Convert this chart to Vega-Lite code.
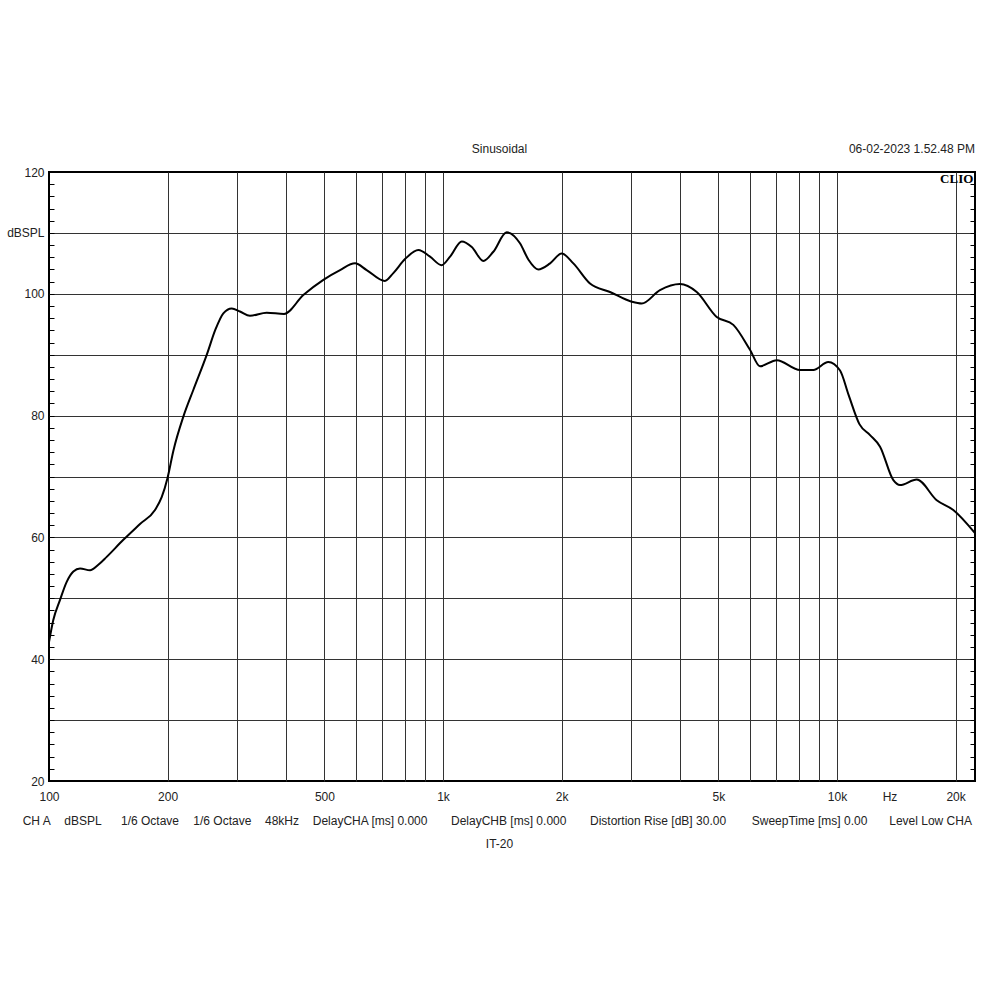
{
  "$schema": "https://vega.github.io/schema/vega-lite/v6.json",
  "width": 926,
  "height": 609,
  "autosize": {"type": "none"},
  "padding": {"left": 49, "top": 172, "right": 25, "bottom": 219},
  "background": "white",
  "config": {
    "view": {"stroke": "#000", "strokeWidth": 2},
    "font": "Liberation Sans",
    "text": {"font": "Liberation Sans", "fontSize": 12, "color": "#222"}
  },
  "datasets": {
    "curve": [
      {"f": 100, "db": 42.8}, {"f": 102.5, "db": 46.4}, {"f": 106.6, "db": 49.7}, {"f": 110.9, "db": 52.7},
      {"f": 115.3, "db": 54.4}, {"f": 119.9, "db": 54.9}, {"f": 127.1, "db": 54.6}, {"f": 133.4, "db": 55.5},
      {"f": 140.1, "db": 56.8}, {"f": 154.4, "db": 59.6}, {"f": 170.2, "db": 62.2}, {"f": 185.8, "db": 64.5},
      {"f": 193.2, "db": 66.6}, {"f": 200, "db": 69.8}, {"f": 206.8, "db": 74.2}, {"f": 219.2, "db": 79.8},
      {"f": 232.4, "db": 84.2}, {"f": 251.5, "db": 90.0}, {"f": 264.4, "db": 94.1}, {"f": 277, "db": 96.8},
      {"f": 290.9, "db": 97.6}, {"f": 305.3, "db": 97.1}, {"f": 323.7, "db": 96.4}, {"f": 356.9, "db": 96.9},
      {"f": 395, "db": 96.7}, {"f": 442, "db": 99.8}, {"f": 497, "db": 102.3}, {"f": 548, "db": 103.9},
      {"f": 598, "db": 105.0}, {"f": 640, "db": 103.9}, {"f": 712, "db": 102.1}, {"f": 748, "db": 103.4},
      {"f": 801, "db": 105.7}, {"f": 866, "db": 107.2}, {"f": 927, "db": 106.1}, {"f": 992, "db": 104.7},
      {"f": 1042, "db": 106.1}, {"f": 1116, "db": 108.6}, {"f": 1183, "db": 107.7}, {"f": 1266, "db": 105.4},
      {"f": 1342, "db": 106.9}, {"f": 1451, "db": 110.1}, {"f": 1568, "db": 108.3}, {"f": 1648, "db": 105.6},
      {"f": 1745, "db": 104.0}, {"f": 1870, "db": 105.0}, {"f": 2001, "db": 106.6}, {"f": 2142, "db": 105.0},
      {"f": 2361, "db": 101.7},
      {"f": 2654, "db": 100.3}, {"f": 3012, "db": 98.7}, {"f": 3194, "db": 98.4}, {"f": 3554, "db": 100.6},
      {"f": 3995, "db": 101.6}, {"f": 4405, "db": 100.3}, {"f": 4951, "db": 96.2}, {"f": 5456, "db": 94.9},
      {"f": 6014, "db": 90.8}, {"f": 6376, "db": 88.1}, {"f": 7031, "db": 89.1}, {"f": 8056, "db": 87.5},
      {"f": 8708, "db": 87.5}, {"f": 9504, "db": 88.8}, {"f": 10180, "db": 87.4}, {"f": 10700, "db": 83.4},
      {"f": 11400, "db": 78.6}, {"f": 12130, "db": 76.8}, {"f": 12860, "db": 74.9}, {"f": 13900, "db": 69.4},
      {"f": 14450, "db": 68.6}, {"f": 15940, "db": 69.5}, {"f": 17910, "db": 66.1}, {"f": 19730, "db": 64.5},
      {"f": 22400, "db": 60.7}
    ],
    "footer": [
      {"label": "CH A", "f": 85.75, "db": 13.43},
      {"label": "dBSPL", "f": 109.4, "db": 13.43},
      {"label": "1/6 Octave", "f": 152.3, "db": 13.43},
      {"label": "1/6 Octave", "f": 232.4, "db": 13.43},
      {"label": "48kHz", "f": 353.4, "db": 13.43},
      {"label": "DelayCHA [ms] 0.000", "f": 467, "db": 13.43},
      {"label": "DelayCHB [ms] 0.000", "f": 1048, "db": 13.43},
      {"label": "Distortion Rise [dB] 30.00", "f": 2361, "db": 13.43},
      {"label": "SweepTime [ms] 0.00", "f": 6075, "db": 13.43},
      {"label": "Level Low CHA", "f": 13570, "db": 13.43}
    ],
    "centered": [
      {"label": "Sinusoidal", "f": 1391, "db": 123.78},
      {"label": "IT-20", "f": 1391, "db": 9.6}
    ],
    "right": [
      {"label": "06-02-2023 1.52.48 PM", "f": 22400, "db": 123.78}
    ],
    "logo": [
      {"label": "CLIO", "f": 22180, "db": 118.85}
    ]
  },
  "layer": [
    {
      "data": {"name": "curve"},
      "mark": {"type": "line", "interpolate": "monotone", "color": "#000", "strokeWidth": 2},
      "encoding": {
        "x": {
          "field": "f", "type": "quantitative",
          "scale": {"type": "log", "domain": [100, 22400], "nice": false},
          "axis": {
            "title": null,
            "values": [100, 200, 300, 400, 500, 600, 700, 800, 900, 1000, 2000, 3000, 4000, 5000, 6000, 7000, 8000, 9000, 10000, 13590, 20000],
            "labelExpr": "datum.value == 13590 ? 'Hz' : (indexof([100,200,500], datum.value) >= 0 ? datum.value + '' : (indexof([1000,2000,5000,10000,20000], datum.value) >= 0 ? (datum.value/1000) + 'k' : ''))",
            "ticks": false, "domain": false, "grid": true,
            "gridColor": "#333", "gridWidth": 1,
            "gridOpacity": {"condition": {"test": "datum.value == 13590 || datum.value == 100", "value": 0}, "value": 1},
            "labelFont": "Liberation Sans", "labelFontSize": 12, "labelColor": "#222",
            "labelPadding": 10, "labelFlush": false, "labelOverlap": false, "labelBound": false
          }
        },
        "y": {
          "field": "db", "type": "quantitative",
          "scale": {"domain": [20, 120], "nice": false, "zero": false},
          "axis": {
            "title": null,
            "values": [20, 22, 24, 26, 28, 30, 32, 34, 36, 38, 40, 42, 44, 46, 48, 50, 52, 54, 56, 58, 60, 62, 64, 66, 68, 70, 72, 74, 76, 78, 80, 82, 84, 86, 88, 90, 92, 94, 96, 98, 100, 102, 104, 106, 108, 110, 112, 114, 116, 118, 120],
            "labelExpr": "datum.value == 110 ? 'dBSPL' : (datum.value % 20 == 0 ? datum.value + '' : '')",
            "ticks": true, "tickSize": -5, "tickColor": "#000", "tickWidth": 1,
            "domain": false, "grid": true, "gridColor": "#333", "gridWidth": 1,
            "gridOpacity": {"condition": {"test": "datum.value % 10 != 0 || datum.value == 20 || datum.value == 120", "value": 0}, "value": 1},
            "labelFont": "Liberation Sans", "labelFontSize": 12, "labelColor": "#222",
            "labelPadding": 10, "labelFlush": false, "labelOverlap": false, "labelBound": false
          }
        }
      }
    },
    {
      "data": {"name": "footer"},
      "mark": {"type": "text", "align": "left", "baseline": "middle", "fontSize": 12, "font": "Liberation Sans", "color": "#222"},
      "encoding": {
        "x": {"field": "f", "type": "quantitative", "scale": {"type": "log", "domain": [100, 22400], "nice": false}, "axis": null},
        "y": {"field": "db", "type": "quantitative", "scale": {"domain": [20, 120], "nice": false, "zero": false}, "axis": null},
        "text": {"field": "label"}
      }
    },
    {
      "data": {"name": "centered"},
      "mark": {"type": "text", "align": "center", "baseline": "middle", "fontSize": 12, "font": "Liberation Sans", "color": "#222"},
      "encoding": {
        "x": {"field": "f", "type": "quantitative", "scale": {"type": "log", "domain": [100, 22400], "nice": false}, "axis": null},
        "y": {"field": "db", "type": "quantitative", "scale": {"domain": [20, 120], "nice": false, "zero": false}, "axis": null},
        "text": {"field": "label"}
      }
    },
    {
      "data": {"name": "right"},
      "mark": {"type": "text", "align": "right", "baseline": "middle", "fontSize": 12, "font": "Liberation Sans", "color": "#222"},
      "encoding": {
        "x": {"field": "f", "type": "quantitative", "scale": {"type": "log", "domain": [100, 22400], "nice": false}, "axis": null},
        "y": {"field": "db", "type": "quantitative", "scale": {"domain": [20, 120], "nice": false, "zero": false}, "axis": null},
        "text": {"field": "label"}
      }
    },
    {
      "data": {"name": "logo"},
      "mark": {"type": "text", "align": "right", "baseline": "middle", "fontSize": 13, "font": "Liberation Serif", "fontWeight": "bold", "color": "#000"},
      "encoding": {
        "x": {"field": "f", "type": "quantitative", "scale": {"type": "log", "domain": [100, 22400], "nice": false}, "axis": null},
        "y": {
          "field": "db", "type": "quantitative",
          "scale": {"domain": [20, 120], "nice": false, "zero": false},
          "axis": {
            "orient": "right", "title": null,
            "values": [20, 22, 24, 26, 28, 30, 32, 34, 36, 38, 40, 42, 44, 46, 48, 50, 52, 54, 56, 58, 60, 62, 64, 66, 68, 70, 72, 74, 76, 78, 80, 82, 84, 86, 88, 90, 92, 94, 96, 98, 100, 102, 104, 106, 108, 110, 112, 114, 116, 118, 120],
            "labels": false, "ticks": true, "tickSize": -5, "tickColor": "#000", "tickWidth": 1,
            "domain": false, "grid": false
          }
        },
        "text": {"field": "label"}
      }
    }
  ],
  "resolve": {"axis": {"x": "independent", "y": "independent"}}
}
